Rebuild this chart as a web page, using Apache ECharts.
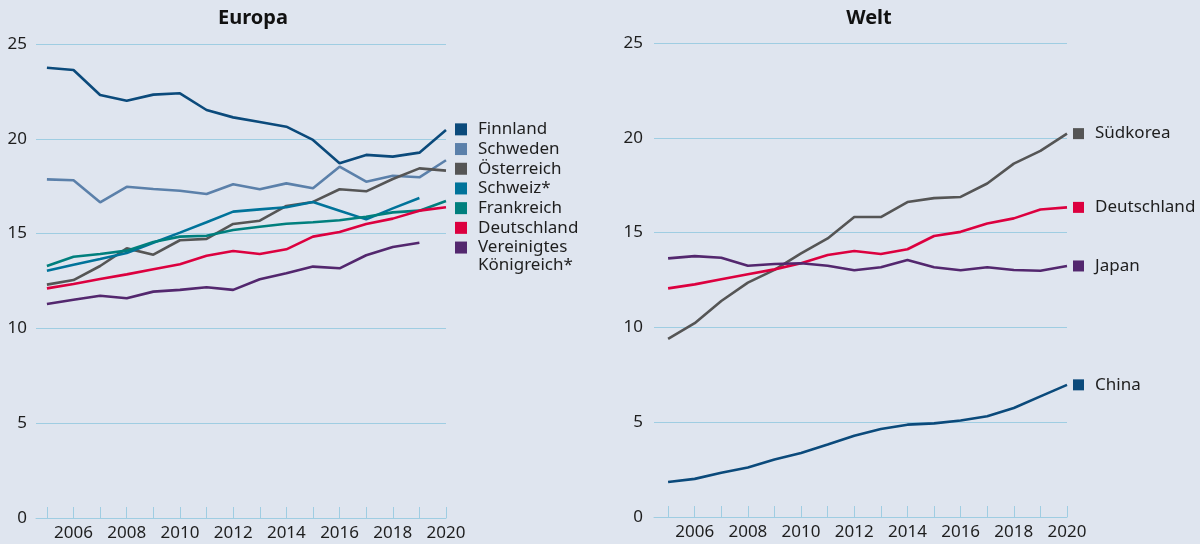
<!DOCTYPE html>
<html>
<head>
<meta charset="utf-8">
<script src="https://cdn.jsdelivr.net/npm/echarts@6.0.0/dist/echarts.min.js"></script>
<style>
  html, body { margin: 0; padding: 0; background: #dfe5ef; }
  #chart { width: 1200px; height: 544px; }
</style>
</head>
<body>
<div id="chart"></div>
<script>
const years = [2005, 2006, 2007, 2008, 2009, 2010, 2011, 2012, 2013, 2014, 2015, 2016, 2017, 2018, 2019, 2020];
const tickYears = years;
const labelYears = [2006, 2008, 2010, 2012, 2014, 2016, 2018, 2020];

// Europa
const finnland = [23.75, 23.63, 22.31, 22.01, 22.33, 22.40, 21.52, 21.13, 20.89, 20.64, 19.94, 18.71, 19.15, 19.06, 19.27, 20.46];
const schweden = [17.86, 17.81, 16.65, 17.47, 17.35, 17.26, 17.09, 17.60, 17.34, 17.65, 17.39, 18.53, 17.74, 18.05, 17.97, 18.87];
const oesterreich = [12.31, 12.55, 13.29, 14.22, 13.89, 14.65, 14.72, 15.51, 15.68, 16.46, 16.67, 17.34, 17.23, 17.88, 18.44, 18.32];
const schweiz = [13.04, 13.36, 13.66, 13.98, 14.52, 15.05, 15.60, 16.16, 16.28, 16.39, 16.67, 16.21, 15.75, 16.33, 16.88];
const frankreich = [13.29, 13.78, 13.92, 14.10, 14.56, 14.84, 14.89, 15.19, 15.36, 15.52, 15.60, 15.70, 15.89, 16.12, 16.21, 16.72];
const deutschlandEu = [12.11, 12.34, 12.61, 12.85, 13.12, 13.38, 13.83, 14.08, 13.92, 14.17, 14.84, 15.08, 15.51, 15.79, 16.21, 16.39];
const vereinigtesKoenigreich = [11.29, 11.51, 11.72, 11.59, 11.94, 12.03, 12.17, 12.03, 12.59, 12.91, 13.26, 13.17, 13.86, 14.29, 14.52];

// Welt
const suedkorea = [9.39, 10.22, 11.39, 12.36, 13.03, 13.90, 14.69, 15.82, 15.82, 16.61, 16.82, 16.88, 17.59, 18.64, 19.31, 20.22];
const deutschlandWelt = [12.06, 12.27, 12.54, 12.80, 13.06, 13.38, 13.82, 14.03, 13.87, 14.12, 14.82, 15.04, 15.48, 15.75, 16.22, 16.33];
const japan = [13.64, 13.76, 13.67, 13.25, 13.34, 13.38, 13.25, 13.01, 13.17, 13.55, 13.17, 13.01, 13.17, 13.03, 12.99, 13.24];
const china = [1.85, 2.01, 2.33, 2.61, 3.03, 3.38, 3.82, 4.29, 4.64, 4.87, 4.94, 5.09, 5.31, 5.75, 6.36, 6.97];

const gridBlue = '#9fcde2';
const textColor = '#1e1e1e';
const font = 'Noto Sans';

const europa = [
  {name: 'Finnland', data: finnland, color: '#0b4a7b'},
  {name: 'Schweden', data: schweden, color: '#5b80aa'},
  {name: 'Österreich', data: oesterreich, color: '#555555'},
  {name: 'Schweiz*', data: schweiz, color: '#00739a'},
  {name: 'Frankreich', data: frankreich, color: '#007f7d'},
  {name: 'Deutschland', data: deutschlandEu, color: '#dc003f'},
  {name: 'Vereinigtes Königreich*', data: vereinigtesKoenigreich, color: '#53276e'}
];

const welt = [
  {name: 'Südkorea', data: suedkorea, color: '#555555'},
  {name: 'Deutschland', data: deutschlandWelt, color: '#dc003f'},
  {name: 'Japan', data: japan, color: '#53276e'},
  {name: 'China', data: china, color: '#0b4a7b'}
];

function pairs(values) {
  return values.map((v, i) => [years[i], v]);
}

function xAxisFor(gridIndex, min) {
  return {
    type: 'value',
    gridIndex: gridIndex,
    min: min,
    max: 2020,
    axisLine: {show: true, lineStyle: {color: gridBlue, width: 1}},
    axisTick: {show: true, inside: true, length: 11, lineStyle: {color: gridBlue, width: 1}, customValues: tickYears},
    axisLabel: {
      customValues: labelYears,
      formatter: v => String(v),
      color: textColor,
      fontSize: 17,
      fontFamily: font,
      margin: 7
    },
    splitLine: {show: false}
  };
}

function yAxisFor(gridIndex, margin) {
  return {
    type: 'value',
    gridIndex: gridIndex,
    min: 0,
    max: 25,
    interval: 5,
    axisLine: {show: false},
    axisTick: {show: false},
    axisLabel: {color: textColor, fontSize: 17, fontFamily: font, margin: margin},
    splitLine: {show: true, lineStyle: {color: gridBlue, width: 1}}
  };
}

const series = [];
europa.forEach(s => {
  series.push({
    name: s.name,
    type: 'line',
    xAxisIndex: 0,
    yAxisIndex: 0,
    data: pairs(s.data),
    showSymbol: false,
    symbol: 'none',
    color: s.color,
    itemStyle: {color: s.color},
    lineStyle: {color: s.color, width: 2.6},
    emphasis: {disabled: true}
  });
});
welt.forEach(s => {
  series.push({
    name: s.name + ' ',
    type: 'line',
    xAxisIndex: 1,
    yAxisIndex: 1,
    data: pairs(s.data),
    showSymbol: false,
    symbol: 'none',
    color: s.color,
    itemStyle: {color: s.color},
    lineStyle: {color: s.color, width: 2.6},
    emphasis: {disabled: true},
    endLabel: {
      show: true,
      distance: 6,
      formatter: '{sq| }{n|' + s.name + '}',
      rich: {
        sq: {width: 11, height: 11, backgroundColor: s.color},
        n: {fontSize: 17, fontFamily: font, color: textColor, padding: [0, 0, 0, 11]}
      }
    }
  });
});

const chart = echarts.init(document.getElementById('chart'));
chart.setOption({
  backgroundColor: '#dfe5ef',
  animation: false,
  title: [
    {text: 'Europa', left: 248, top: 3, textAlign: 'center',
      textStyle: {fontSize: 20, fontWeight: 'bold', fontFamily: font, color: '#111'}},
    {text: 'Welt', left: 864, top: 3, textAlign: 'center',
      textStyle: {fontSize: 20, fontWeight: 'bold', fontFamily: font, color: '#111'}}
  ],
  legend: {
    orient: 'vertical',
    left: 455,
    top: 119.5,
    padding: 0,
    itemGap: 0,
    itemWidth: 12,
    itemHeight: 12,
    icon: 'rect',
    selectedMode: false,
    data: europa.map(s => s.name),
    formatter: name => name === 'Vereinigtes Königreich*' ? 'Vereinigtes' : name,
    textStyle: {fontSize: 17, fontFamily: font, color: textColor, lineHeight: 19.7, padding: [0, 0, 0, 6]}
  },
  graphic: [
    {type: 'text', left: 478, top: 257,
      style: {text: 'Königreich*', font: '17px "Noto Sans"', fill: textColor}}
  ],
  grid: [
    {left: 36, right: 754, top: 44, bottom: 26},
    {left: 654, right: 133, top: 43, bottom: 27}
  ],
  xAxis: [xAxisFor(0, 2004.59), xAxisFor(1, 2004.47)],
  yAxis: [yAxisFor(0, 9), yAxisFor(1, 11)],
  series: series
});
</script>
</body>
</html>
